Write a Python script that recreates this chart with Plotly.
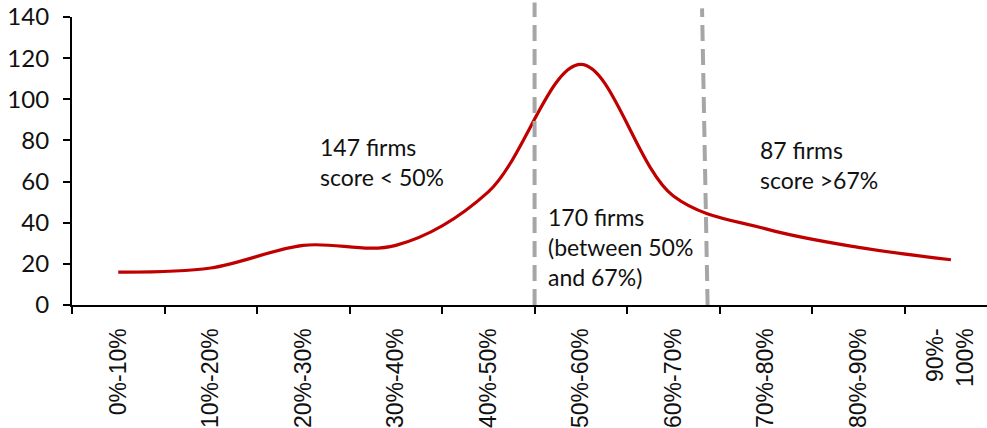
import plotly.graph_objects as go

# Score bands and number of firms in each band
categories = ["0%-10%", "10%-20%", "20%-30%", "30%-40%", "40%-50%",
              "50%-60%", "60%-70%", "70%-80%", "80%-90%", "90%-<br>100%"]
firms = [16, 18, 29, 29, 55, 117, 53, 37, 28, 22]

y_ticks = [0, 20, 40, 60, 80, 100, 120, 140]

# Cut-off positions (in category units) for the 50% and 67% thresholds
cut_50 = 4.5
cut_67 = 6.34

n = len(categories)
centers = list(range(n))
boundaries = [i - 0.5 for i in range(n + 1)]

label_font = dict(family="Lato, 'Noto Sans', sans-serif", size=23, color="#111111")

fig = go.Figure()
fig.add_trace(go.Scatter(
    x=centers,
    y=firms,
    mode="lines",
    line=dict(color="#C00000", width=3.2, shape="spline", smoothing=1.0),
    hoverinfo="skip",
    showlegend=False,
))

# Dashed threshold markers
dash_style = dict(color="#A6A6A6", width=4, dash="16px,8px")
fig.add_shape(type="line", xref="x", yref="paper",
              x0=cut_50, x1=cut_50, y0=0, y1=1.05, line=dash_style, layer="above")
fig.add_shape(type="line", xref="x", yref="paper",
              x0=cut_67 + 0.03, x1=cut_67 - 0.03, y0=0, y1=1.03, line=dash_style, layer="above")

notes = [
    (2.16, 84.5, "147 firms<br>score < 50%"),
    (4.62, 50.5, "170 firms<br>(between 50%<br>and 67%)"),
    (6.92, 83.0, "87 firms<br>score >67%"),
]
for nx, ny, txt in notes:
    fig.add_annotation(x=nx, y=ny, xref="x", yref="y", text=txt,
                       showarrow=False, xanchor="left", yanchor="top",
                       align="left", font=label_font)

fig.update_layout(
    width=987, height=428,
    margin=dict(l=72, r=0, t=17, b=123),
    plot_bgcolor="white", paper_bgcolor="white",
    xaxis=dict(
        tickmode="array",
        tickvals=centers,
        ticktext=categories,
        range=[-0.5, 9.39],
        automargin=False,
        showgrid=False, zeroline=False,
        showline=True, linecolor="black", linewidth=2.2,
        ticks="",
        minor=dict(tickmode="array", tickvals=boundaries, ticks="outside",
                   ticklen=7, tickwidth=2, tickcolor="black", showgrid=False),
        tickangle=-90,
        tickfont=dict(family="'Liberation Sans', Arial, sans-serif", size=23, color="#111111"),
        ticklabelstandoff=12,
    ),
    yaxis=dict(
        range=[0, 140],
        automargin=False,
        tickmode="array", tickvals=y_ticks,
        showgrid=False, zeroline=False,
        showline=True, linecolor="black", linewidth=2.2,
        ticks="outside", ticklen=7, tickwidth=2, tickcolor="black",
        tickfont=dict(family="Lato, 'Noto Sans', sans-serif", size=24, color="#111111"),
        ticklabelstandoff=9,
    ),
)

fig.write_html("out.html")
